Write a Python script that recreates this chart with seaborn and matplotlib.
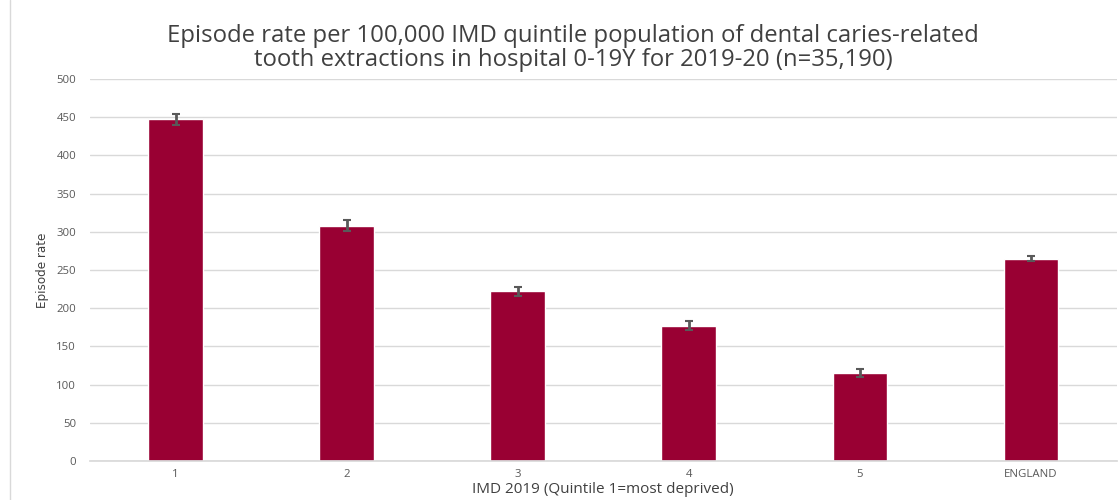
import numpy as np
import pandas as pd
import matplotlib
matplotlib.use("Agg")
import matplotlib.pyplot as plt
import seaborn as sns

# Data
quintiles = ["1", "2", "3", "4", "5", "ENGLAND"]
episode_rate = [447, 308, 222, 177, 115, 265]
ci_half = [7, 7, 6, 6, 5, 3]

BAR_COLOUR = "#990033"
TEXT_GREY = "#595959"

sns.set_theme(style="white")
plt.rcParams["font.family"] = ["Open Sans", "DejaVu Sans"]

df = pd.DataFrame({"quintile": quintiles, "rate": episode_rate, "ci": ci_half})

fig = plt.figure(figsize=(11.19, 5.0), dpi=100)
ax = fig.add_axes([0.0804, 0.078, 0.9174, 0.764])

sns.barplot(data=df, x="quintile", y="rate", color=BAR_COLOUR, width=0.32,
            saturation=1, errorbar=None, ax=ax)
ax.errorbar(np.arange(len(df)), df["rate"], yerr=df["ci"], fmt="none",
            ecolor=TEXT_GREY, elinewidth=2, capsize=3, capthick=1.5)

ax.set_ylim(0, 500)
ax.set_yticks(range(0, 501, 50))
ax.set_xlim(-0.5, len(df) - 0.5)
ax.grid(axis="y", color="#d9d9d9", linewidth=1)
ax.set_axisbelow(True)
for side in ["top", "right", "left"]:
    ax.spines[side].set_visible(False)
ax.spines["bottom"].set_color("#d9d9d9")
ax.tick_params(axis="both", length=0, colors=TEXT_GREY, labelsize=8.2)
ax.tick_params(axis="y", pad=10)
ax.tick_params(axis="x", pad=6)

ax.set_xlabel("IMD 2019 (Quintile 1=most deprived)", fontsize=11, color="#404040", labelpad=1)
ax.set_ylabel("Episode rate", fontsize=9.5, color="#404040", labelpad=5,
              family="DejaVu Sans", fontstretch="condensed")

fig.suptitle("Episode rate per 100,000 IMD quintile population of dental caries-related\n"
             "tooth extractions in hospital 0-19Y for 2019-20 (n=35,190)",
             x=0.512, y=0.953, fontsize=17.2, color="#404040", linespacing=1.0)

# faint chart-area border on the left
fig.add_artist(plt.Line2D([0.009, 0.009], [0, 1], color="#d9d9d9", linewidth=1,
                          transform=fig.transFigure))

fig.savefig("out.png", dpi=100)
